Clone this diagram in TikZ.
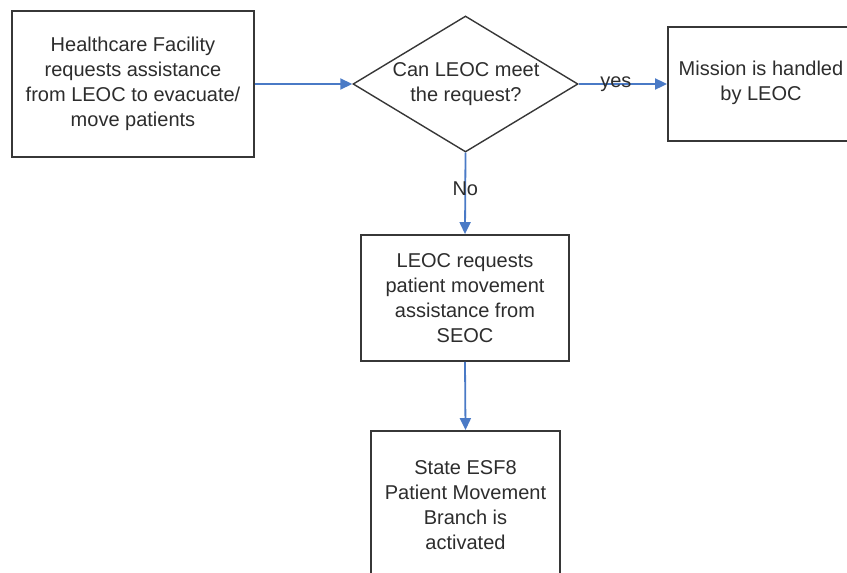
\documentclass[tikz,border=0pt]{standalone}
\usepackage{fontspec}
\setmainfont{Liberation Sans}
\usetikzlibrary{shapes.geometric,arrows.meta}
\definecolor{flowblue}{RGB}{74,122,198}
\definecolor{boxgray}{RGB}{55,55,55}
\definecolor{txtgray}{RGB}{45,45,45}
\tikzset{
  procbox/.style={draw=boxgray,line width=1.8pt,fill=white,inner sep=0pt,align=center,text=txtgray,font=\fontsize{20}{25}\selectfont},
  decision/.style={draw=boxgray,line width=1.4pt,shape=diamond,inner sep=0pt,minimum width=225pt,minimum height=136pt},
  plaintext/.style={align=center,text=txtgray,font=\fontsize{20}{25}\selectfont,inner sep=0pt},
  flow/.style={draw=flowblue,line width=1.8pt,-{Triangle[length=12pt,width=11pt]}},
}
\begin{document}
\begin{tikzpicture}[x=1pt,y=-1pt]
\useasboundingbox (0,0) rectangle (847,573);
\clip (0,0) rectangle (847,573);
\node[procbox,minimum width=200pt,minimum height=114pt] (mis) at (768,84) {};
\node[plaintext] (mistext) at (761,83) {Mission is handled\\by LEOC};
\node[procbox,minimum width=242pt,minimum height=146pt] (hf) at (133,84) {Healthcare Facility\\requests assistance\\from LEOC to evacuate/\\move patients};
\node[decision] (dec) at (465.5,84) {};
\node[plaintext] (dectext) at (466,84) {Can LEOC meet\\the request?};
\node[procbox,minimum width=208pt,minimum height=126pt] (req) at (465,298) {LEOC requests\\patient movement\\assistance from\\SEOC};
\node[procbox,minimum width=189pt,minimum height=148pt] (esf) at (465.5,505) {State ESF8\\Patient Movement\\Branch is\\activated};
\draw[flow] (hf.east) -- (dec.west);
\draw[flow] (dec.east) -- node[plaintext,pos=0.42] (yes) {yes} (mis.west);
\draw[flow] (dec.south) -- node[plaintext,pos=0.44] (no) {No} (req.north);
\draw[flow] (req.south) -- (esf.north);
\end{tikzpicture}
\end{document}
